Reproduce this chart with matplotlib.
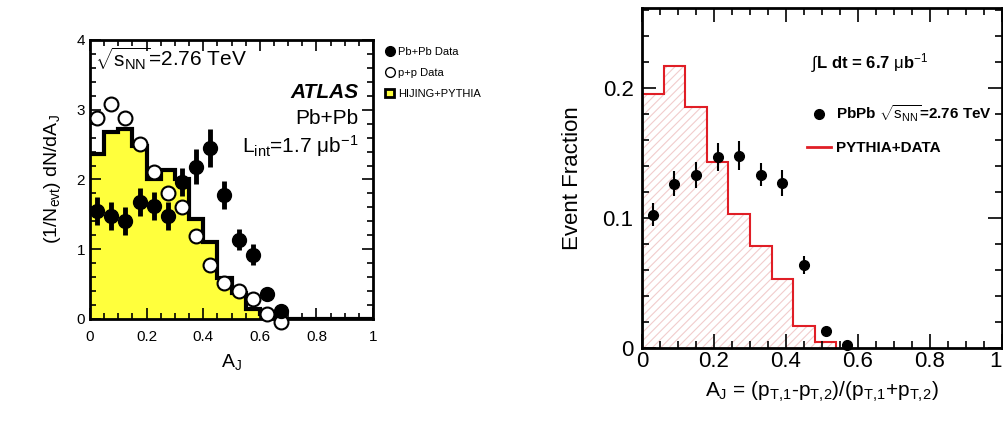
import numpy as np
import matplotlib
matplotlib.use("Agg")
import matplotlib.pyplot as plt
from matplotlib.lines import Line2D
from matplotlib.patches import Patch
from matplotlib.ticker import MultipleLocator

plt.rcParams['font.family'] = ['Liberation Sans', 'DejaVu Sans']
plt.rcParams['mathtext.fontset'] = 'custom'
plt.rcParams['mathtext.rm'] = 'Liberation Sans'
plt.rcParams['mathtext.it'] = 'Liberation Sans'
plt.rcParams['mathtext.bf'] = 'Liberation Sans:bold'
plt.rcParams['hatch.linewidth'] = 0.8

# left panel: ATLAS
atlas_edges = [0, 0.05, 0.10, 0.15, 0.20, 0.25, 0.30, 0.35, 0.40, 0.45, 0.50,
               0.55, 0.60, 0.65, 0.70, 0.75, 0.80, 0.85, 0.90, 0.95, 1.0]
hijing = [2.37, 2.68, 2.73, 2.48, 2.0, 2.14, 2.0, 1.43, 1.10, 0.59, 0.375,
          0.144, 0.07, 0, 0, 0, 0, 0, 0, 0]
atlas_x = [0.025, 0.075, 0.125, 0.175, 0.225, 0.275, 0.325, 0.375, 0.425,
           0.475, 0.525, 0.575, 0.625, 0.675]
pbpb = [1.55, 1.48, 1.41, 1.68, 1.625, 1.47, 1.96, 2.18, 2.45, 1.78, 1.135,
        0.92, 0.36, 0.11]
pbpb_err = [0.2, 0.2, 0.2, 0.2, 0.2, 0.2, 0.2, 0.25, 0.27, 0.2, 0.15, 0.15,
            0.05, 0.05]
pp = [2.88, 3.08, 2.88, 2.51, 2.1, 1.81, 1.61, 1.19, 0.77, 0.51, 0.40, 0.28,
      0.07, -0.05]
atlas_ticks = [0, 0.2, 0.4, 0.6, 0.8, 1.0]
atlas_ticklabels = ['0', '0.2', '0.4', '0.6', '0.8', '1']

# right panel: event fraction
frac_edges = [0, 0.06, 0.12, 0.18, 0.24, 0.30, 0.36, 0.42, 0.48, 0.54]
pythia = [0.1956, 0.2167, 0.1854, 0.143, 0.1033, 0.0787, 0.0531, 0.0172,
          0.0046]
frac_x = [0.03, 0.09, 0.15, 0.21, 0.27, 0.33, 0.39, 0.45, 0.51, 0.57]
frac = [0.1026, 0.1264, 0.1333, 0.147, 0.148, 0.1333, 0.127, 0.0638, 0.0131,
        0.0026]
frac_err = [0.009, 0.0095, 0.01, 0.011, 0.011, 0.009, 0.01, 0.007, 0, 0]
frac_yticks = [0, 0.1, 0.2]
frac_yticklabels = ['0', '0.1', '0.2']

fig = plt.figure(figsize=(10.04, 4.28), dpi=100)

# ---- left ----
ax1 = fig.add_axes([0.0896, 0.2547, 0.282, 0.652])
ax1.stairs(hijing, atlas_edges, fill=True, color='#ffff3c', lw=0)
ax1.stairs(hijing, atlas_edges, baseline=None, color='black', lw=3)
ax1.plot(atlas_x, pp, 'o', ms=10, mfc='white', mec='black', mew=1.5,
         clip_on=False, zorder=4)
ax1.errorbar(atlas_x, pbpb, yerr=pbpb_err, fmt='o', ms=10, color='black',
             elinewidth=3.5, capsize=0, zorder=5, clip_on=False)

ax1.set_xlim(0, 1)
ax1.set_ylim(0, 4)
ax1.set_xticks(atlas_ticks)
ax1.set_xticklabels(atlas_ticklabels)
ax1.xaxis.set_minor_locator(MultipleLocator(0.05))
ax1.yaxis.set_major_locator(MultipleLocator(1))
ax1.yaxis.set_minor_locator(MultipleLocator(0.2))
ax1.tick_params(which='both', direction='in', top=True, right=True,
                labelsize=11, width=1.2)
ax1.tick_params(which='major', length=8)
ax1.tick_params(which='minor', length=4)
ax1.tick_params(axis='x', pad=8)
for s in ax1.spines.values():
    s.set_linewidth(2)
ax1.set_xlabel('$A_J$', fontsize=14, labelpad=6)
ax1.set_ylabel('(1/N$_{evt}$) dN/dA$_J$', fontsize=14, labelpad=10)

ax1.text(0.018, 0.935, r'$\sqrt{s_{NN}}$=2.76 TeV', transform=ax1.transAxes,
         fontsize=15, va='center', ha='left')
ax1.text(0.947, 0.81, 'ATLAS', transform=ax1.transAxes, fontsize=15,
         fontweight='bold', fontstyle='italic', ha='right', va='center')
ax1.text(0.947, 0.72, 'Pb+Pb', transform=ax1.transAxes, fontsize=15,
         ha='right', va='center')
ax1.text(0.947, 0.62, r'L$_{int}$=1.7 $\mu$b$^{-1}$',
         transform=ax1.transAxes, fontsize=15, ha='right', va='center')

handles1 = [Line2D([], [], marker='o', ls='none', color='black', ms=7),
            Line2D([], [], marker='o', ls='none', mfc='white', mec='black',
                   ms=7),
            Patch(facecolor='#ffff3c', edgecolor='black', lw=2)]
ax1.legend(handles1, ['Pb+Pb Data', 'p+p Data', 'HIJING+PYTHIA'],
           loc='upper left', bbox_to_anchor=(1.02, 1.0), frameon=False,
           fontsize=8, handlelength=0.8, handletextpad=0.3,
           labelspacing=1.0, borderaxespad=0.2)

# ---- right ----
ax2 = fig.add_axes([0.6394, 0.187, 0.3586, 0.794])
ax2.stairs(pythia, frac_edges, fill=True, facecolor='none',
           edgecolor='#f2cccc', hatch='////', lw=0)
ax2.stairs(pythia, frac_edges, color='#e01e26', lw=1.5)
ax2.errorbar(frac_x, frac, yerr=frac_err, fmt='o', ms=7, color='black',
             elinewidth=1.5, capsize=0, zorder=5, clip_on=False)

ax2.set_xlim(0, 1)
ax2.set_ylim(0, 0.2615)
ax2.set_xticks(atlas_ticks)
ax2.set_xticklabels(atlas_ticklabels)
ax2.get_xticklabels()[-1].set_ha('right')
ax2.xaxis.set_minor_locator(MultipleLocator(0.05))
ax2.set_yticks(frac_yticks)
ax2.set_yticklabels(frac_yticklabels)
ax2.yaxis.set_minor_locator(MultipleLocator(0.02))
ax2.tick_params(which='both', direction='in', top=True, right=True,
                labelsize=16, width=1.2)
ax2.tick_params(which='major', length=10)
ax2.tick_params(which='minor', length=5)
ax2.tick_params(axis='x', pad=2)
ax2.tick_params(axis='y', pad=6)
for s in ax2.spines.values():
    s.set_linewidth(2)
ax2.set_xlabel(r'$A_J$ = $(p_{T,\!1}$-$p_{T,\!2})/(p_{T,\!1}$+$p_{T,\!2})$',
               fontsize=15, labelpad=6)
ax2.set_ylabel('Event Fraction', fontsize=16, labelpad=14)

ax2.text(0.47, 0.838, r'$\int$L dt = 6.7 $\mu$b$^{-1}$',
         transform=ax2.transAxes, fontsize=12, fontweight='bold',
         va='center', ha='left')
handles2 = [Line2D([], [], marker='o', ls='none', color='black', ms=7),
            Line2D([], [], color='#e01e26', lw=2)]
ax2.legend(handles2, [r'PbPb $\sqrt{s_{NN}}$=2.76 TeV', 'PYTHIA+DATA'],
           loc='upper left', bbox_to_anchor=(0.42, 0.76), frameon=False,
           prop={'size': 11, 'weight': 'bold'}, handlelength=1.6,
           handletextpad=0.3, labelspacing=1.1)

fig.savefig('out.png', dpi=100)
